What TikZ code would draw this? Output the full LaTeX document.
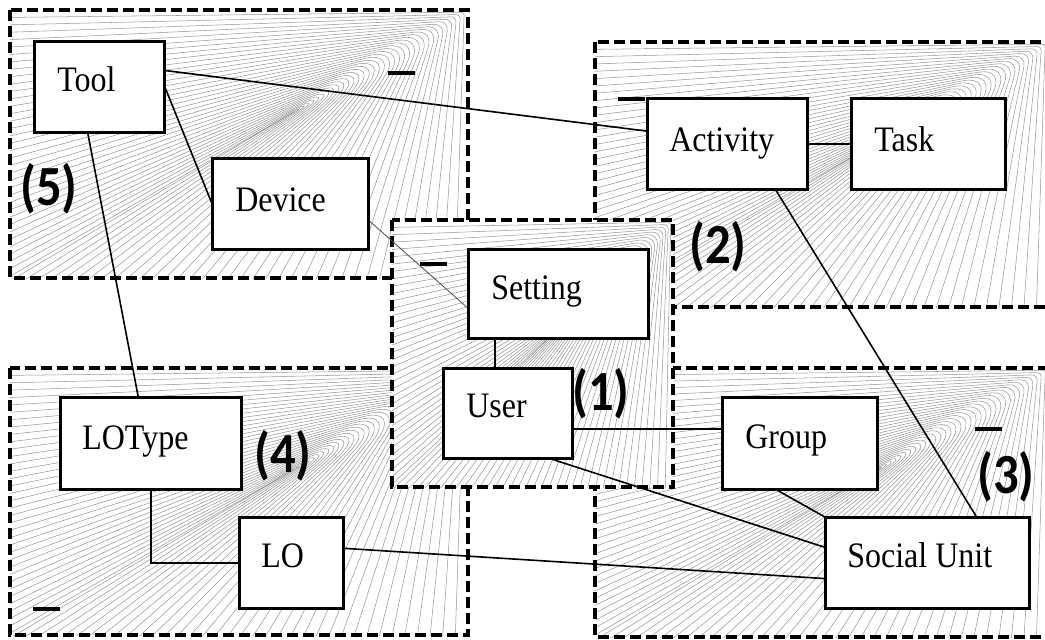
\documentclass[tikz,border=0pt]{standalone}
\usepackage{fontspec}
\usepackage{graphicx}
\setmainfont{Liberation Serif}
\newfontfamily\lblfont{Carlito}
\usetikzlibrary{calc,fit}

\tikzset{
  fanline/.style={draw=black!40, line width=0.4pt},
  zone/.style={draw=black, line width=2.8pt, dash pattern=on 8.5pt off 3.5pt},
  entity/.style={draw=black, fill=white, line width=1.3pt, inner sep=0pt},
  conn/.style={draw=black, line width=1.2pt},
  thinconn/.style={draw=black!70, line width=0.6pt},
  etext/.style={inner sep=0pt, anchor=base west, font=\fontsize{24}{28}\selectfont},
  zonelabel/.style={inner sep=0pt, anchor=base west, font=\lblfont\bfseries\fontsize{38}{42}\selectfont},
  dashmark/.style={draw=black, line width=2.6pt}
}

\newcommand\fancontour[5]{% L T R B fraction
  \pgfmathsetmacro\yl{#2+#5*(#4-#2)}
  \pgfmathsetmacro\xc{#3-0.3*#5*(#3-#1)}
  \pgfmathsetmacro\yc{#2+0.3*#5*(#4-#2)}
  \pgfmathsetmacro\xb{#3-#5*(#3-#1)}
  \pgfmathsetmacro\rad{0.2*#5*(#4-#2)}
  \draw[fanline, rounded corners=\rad pt] (#1-3,\yl) -- (\xc,\yc) -- (\xb,#4+3);
}

\newcommand\fanzone[4]{% L T R B (pixels)
  \fill[white] (#1,#2) rectangle (#3,#4);
  \begin{scope}
    \clip (#1,#2) rectangle (#3,#4);
    \foreach \k in {1,...,36}{
      \pgfmathsetmacro\fr{\k/36}
      \fancontour{#1}{#2}{#3}{#4}{\fr}
    }
  \end{scope}
  \draw[zone] (#1,#2) rectangle (#3,#4);
}

\begin{document}
\begin{tikzpicture}[x=0.75pt, y=-0.75pt]
\useasboundingbox (0,0) rectangle (1045,639);

% zones
\fanzone{10}{10}{468}{278}
\fanzone{595}{42}{1049}{307}
\fanzone{10}{368}{468}{635}
\fanzone{595}{368}{1049}{637}
\fanzone{392}{220}{673}{487}

% entities
\node[entity, fit={(35,42) (164,132)}] (tool) {};
\node[entity, fit={(213,159) (368,249)}] (device) {};
\node[entity, fit={(648,99) (807,189)}] (activity) {};
\node[entity, fit={(852,99) (1005,189)}] (task) {};
\node[entity, fit={(469,250) (648,338)}] (setting) {};
\node[entity, fit={(444,369) (572,458)}] (user) {};
\node[entity, fit={(723,398) (877,489)}] (group) {};
\node[entity, fit={(826,518) (1029,608)}] (social) {};
\node[entity, fit={(61,398) (241,489)}] (lotype) {};
\node[entity, fit={(240,518) (343,608)}] (lo) {};

% connectors
\draw[conn] ($(tool.north east)!0.32!(tool.south east)$) -- ($(activity.north west)!0.36!(activity.south west)$);
\draw[conn] (tool.east) -- (device.west);
\draw[conn] ($(tool.south west)!0.41!(tool.south east)$) -- ($(lotype.north west)!0.43!(lotype.north east)$);
\draw[thinconn] ($(device.north east)!0.68!(device.south east)$) -- ($(setting.north west)!0.66!(setting.south west)$);
\coordinate (su) at ($(setting.south west)!0.15!(setting.south east)$);
\draw[conn] (su) -- (su |- user.north);
\coordinate (ug) at ($(user.north east)!0.67!(user.south east)$);
\draw[conn] (ug) -- (ug -| group.west);
\draw[conn] ($(user.south west)!0.83!(user.south east)$) -- ($(social.north west)!0.33!(social.south west)$);
\draw[conn] ($(group.south west)!0.35!(group.south east)$) -- (social.north west);
\draw[conn] ($(activity.south west)!0.8!(activity.south east)$) -- ($(social.north west)!0.74!(social.north east)$);
\draw[conn] (activity.east) -- (task.west);
\draw[conn] (lotype.south) |- (lo.west);
\draw[conn] ($(lo.north east)!0.34!(lo.south east)$) -- ($(social.north west)!0.67!(social.south west)$);

% redraw entity borders on top of connector ends
\foreach \e in {tool,device,activity,task,setting,user,group,social,lotype,lo}{
  \draw[line width=1.3pt] (\e.north west) rectangle (\e.south east);
}

% entity texts
\node[etext] (tooltext) at (57,91) {\scalebox{1}[1.12]{Tool}};
\node[etext] (devicetext) at (235,211) {\scalebox{1}[1.12]{Device}};
\node[etext] (activitytext) at (669,151) {\scalebox{1}[1.12]{Activity}};
\node[etext] (tasktext) at (874,151) {\scalebox{1}[1.12]{Task}};
\node[etext] (settingtext) at (491,299) {\scalebox{1}[1.12]{Setting}};
\node[etext] (usertext) at (466,417) {\scalebox{1}[1.12]{User}};
\node[etext] (grouptext) at (745,448) {\scalebox{1}[1.12]{Group}};
\node[etext] (socialtext) at (847,567) {\scalebox{1}[1.12]{Social Unit}};
\node[etext] (lotypetext) at (82,449) {\scalebox{1}[1.12]{LOType}};
\node[etext] (lotext) at (261,567) {\scalebox{1}[1.12]{LO}};

% zone labels
\node[zonelabel] (lab5) at (20,205) {\scalebox{1}[1.12]{(5)}};
\node[zonelabel] (lab2) at (689,263) {\scalebox{1}[1.12]{(2)}};
\node[zonelabel] (lab1) at (572,410) {\scalebox{1}[1.12]{(1)}};
\node[zonelabel] (lab4) at (254,472) {\scalebox{1}[1.12]{(4)}};
\node[zonelabel] (lab3) at (977,493) {\scalebox{1}[1.12]{(3)}};

% short dash marks
\draw[dashmark] (388,73) -- (415,73);
\draw[dashmark] (618,99) -- (645,99);
\draw[dashmark] (420,264) -- (447,264);
\draw[dashmark] (33,609) -- (60,609);
\draw[dashmark] (975,429) -- (1002,429);
\end{tikzpicture}
\end{document}
